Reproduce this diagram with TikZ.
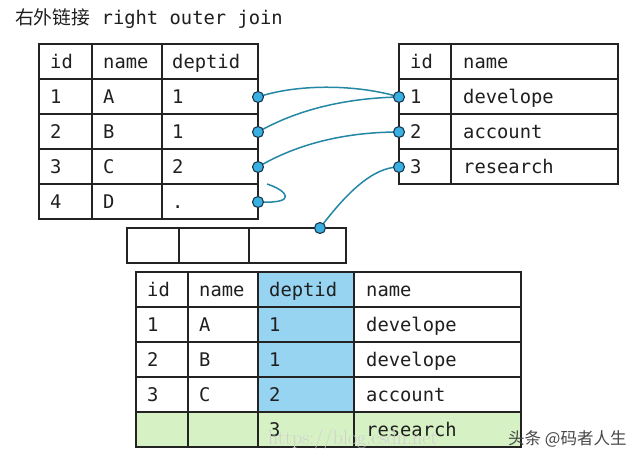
\documentclass[tikz,border=0pt]{standalone}
\usepackage{fontspec}
\setmonofont{DejaVu Sans Mono}
\newfontfamily\cjk{Noto Sans CJK SC}
\definecolor{tline}{RGB}{35,35,35}
\definecolor{hlblue}{RGB}{150,212,242}
\definecolor{hlgreen}{RGB}{214,241,196}
\definecolor{wire}{RGB}{35,135,165}
\definecolor{dotfill}{RGB}{58,175,225}
\definecolor{dotline}{RGB}{25,55,75}
\tikzset{
  tbl/.style={draw=tline, line width=1.5pt},
  txt/.style={anchor=base west, inner sep=0pt, font=\fontsize{18.8}{21}\selectfont\ttfamily, text=black!88},
  jdot/.style={circle, fill=dotfill, draw=dotline, line width=1.1pt, minimum size=11pt, inner sep=0pt},
  wirel/.style={draw=wire, line width=1.5pt}
}
\begin{document}
\begin{tikzpicture}[x=1pt,y=-1pt]
\useasboundingbox (0,0) rectangle (640,461);
\fill[white] (0,0) rectangle (640,461);

% title
\node[txt] (title) at (15,24) {{\cjk 右外链接} right outer join};

% ---------- table 1 (employees) ----------
\draw[tbl] (39,44) rectangle (258,219);
\foreach \yy in {79,114,149,184} \draw[tbl] (39,\yy) -- (258,\yy);
\foreach \xx in {92,162} \draw[tbl] (\xx,44) -- (\xx,219);
\node[txt] (ah1) at (50,68) {id};
\node[txt] (ah2) at (103,68) {name};
\node[txt] (ah3) at (172,68) {deptid};
\node[txt] (a11) at (50,103) {1};
\node[txt] (a12) at (103,103) {A};
\node[txt] (a13) at (172,103) {1};
\node[txt] (a21) at (50,138) {2};
\node[txt] (a22) at (103,138) {B};
\node[txt] (a23) at (172,138) {1};
\node[txt] (a31) at (50,173) {3};
\node[txt] (a32) at (103,173) {C};
\node[txt] (a33) at (172,173) {2};
\node[txt] (a41) at (50,208) {4};
\node[txt] (a42) at (103,208) {D};
\node[txt] (a43) at (172,208) {.};

% ---------- table 2 (departments) ----------
\draw[tbl] (399,44) rectangle (618,184);
\foreach \yy in {79,114,149} \draw[tbl] (399,\yy) -- (618,\yy);
\draw[tbl] (451,44) -- (451,184);
\node[txt] (bh1) at (410,68) {id};
\node[txt] (bh2) at (463,68) {name};
\node[txt] (b11) at (410,103) {1};
\node[txt] (b12) at (463,103) {develope};
\node[txt] (b21) at (410,138) {2};
\node[txt] (b22) at (463,138) {account};
\node[txt] (b31) at (410,173) {3};
\node[txt] (b32) at (463,173) {research};

% ---------- empty row ----------
\draw[tbl] (127,228) rectangle (346,263);
\foreach \xx in {179,249} \draw[tbl] (\xx,228) -- (\xx,263);

% ---------- result table ----------
\fill[hlblue] (258,272) rectangle (354,412);
\fill[hlgreen] (136,412) rectangle (521,447);
\draw[tbl] (136,272) rectangle (521,447);
\foreach \yy in {307,342,377,412} \draw[tbl] (136,\yy) -- (521,\yy);
\foreach \xx in {188,258,354} \draw[tbl] (\xx,272) -- (\xx,447);
\node[txt] (ch1) at (147,296) {id};
\node[txt] (ch2) at (199,296) {name};
\node[txt] (ch3) at (269,296) {deptid};
\node[txt] (ch4) at (366,296) {name};
\node[txt] (c11) at (147,331) {1};
\node[txt] (c12) at (199,331) {A};
\node[txt] (c13) at (269,331) {1};
\node[txt] (c14) at (366,331) {develope};
\node[txt] (c21) at (147,366) {2};
\node[txt] (c22) at (199,366) {B};
\node[txt] (c23) at (269,366) {1};
\node[txt] (c24) at (366,366) {develope};
\node[txt] (c31) at (147,401) {3};
\node[txt] (c32) at (199,401) {C};
\node[txt] (c33) at (269,401) {2};
\node[txt] (c34) at (366,401) {account};
\node[txt] (c43) at (269,436) {3};
\node[txt] (c44) at (366,436) {research};

% watermarks
\node[anchor=base west, inner sep=0pt, font=\fontsize{20}{22}\selectfont\rmfamily, text=black!18] (wm1) at (268,444) {https://blog.csdn.net};
\node[anchor=base west, inner sep=0pt, font=\fontsize{16.5}{18}\selectfont\cjk, text=black!72] (wm2) at (508,444) {头条 @码者人生};

% ---------- connectors ----------
\coordinate (hookend) at (267,184);
\draw[wirel] (258,97) .. controls (300,83) and (360,85) .. (399,97);
\draw[wirel] (258,132) .. controls (300,108) and (350,98) .. (399,97);
\draw[wirel] (258,167) .. controls (300,142) and (350,132) .. (399,132);
\draw[wirel] (258,202) .. controls (300,204) and (286,190) .. (hookend);
\draw[wirel] (320,228) .. controls (345,195) and (372,167) .. (399,167);

% dots
\node[jdot] (d1) at (258,97) {};
\node[jdot] (d2) at (258,132) {};
\node[jdot] (d3) at (258,167) {};
\node[jdot] (d4) at (258,202) {};
\node[jdot] (e1) at (399,97) {};
\node[jdot] (e2) at (399,132) {};
\node[jdot] (e3) at (399,167) {};
\node[jdot] (f1) at (320,228) {};
\end{tikzpicture}
\end{document}
